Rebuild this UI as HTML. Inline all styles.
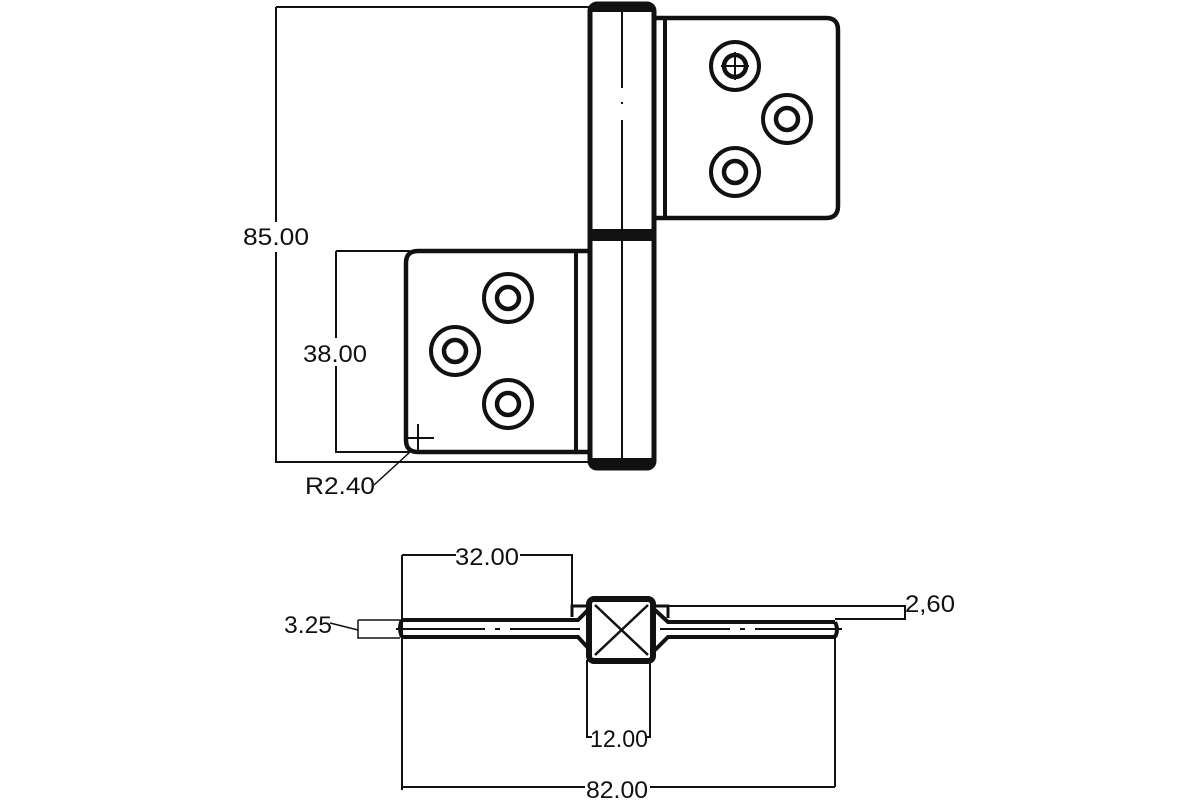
<!DOCTYPE html>
<html><head><style>
html,body{margin:0;padding:0;background:#fff;width:1200px;height:800px;overflow:hidden}
text{font-family:"Liberation Sans",sans-serif;font-size:24px;fill:#111}
</style></head><body>
<svg width="1200" height="800" viewBox="0 0 1200 800" xmlns="http://www.w3.org/2000/svg">
<g fill="none" stroke="#111">
<path d="M276 7H590M276 7V222M276 252V462H590" stroke-width="2"/>
<path d="M336 251H410M336 251V338M336 366V452H410" stroke-width="2"/>
<rect x="590" y="4" width="64" height="464" rx="7" stroke-width="5"/>
<rect x="592" y="4" width="60" height="8" fill="#111" stroke="none"/>
<rect x="592" y="229" width="60" height="12" fill="#111" stroke="none"/>
<rect x="592" y="458" width="60" height="9" fill="#111" stroke="none"/>
<path d="M622 10V88M622 102V104M622 120V470" stroke-width="2"/>
<path d="M654 18H826Q838 18 838 30V206Q838 218 826 218H654" stroke-width="4.5"/>
<path d="M665 18V218" stroke-width="4"/>
<g stroke-width="4">
<circle cx="735" cy="66" r="24"/><circle cx="735" cy="66" r="11" stroke-width="4.5"/>
<circle cx="787" cy="119" r="24"/><circle cx="787" cy="119" r="11" stroke-width="4.5"/>
<circle cx="735" cy="172" r="24"/><circle cx="735" cy="172" r="11" stroke-width="4.5"/>
</g>
<path d="M721 66H749M735 52V80" stroke-width="2"/>
<path d="M590 251H418Q406 251 406 263V440Q406 452 418 452H590" stroke-width="4.5"/>
<path d="M576 251V452" stroke-width="4"/>
<g stroke-width="4">
<circle cx="508" cy="298" r="24"/><circle cx="508" cy="298" r="11" stroke-width="4.5"/>
<circle cx="455" cy="351" r="24"/><circle cx="455" cy="351" r="11" stroke-width="4.5"/>
<circle cx="508" cy="404" r="24"/><circle cx="508" cy="404" r="11" stroke-width="4.5"/>
</g>
<path d="M404 438H434M418 424V454" stroke-width="2"/>
<path d="M374 485L410 452" stroke-width="1.5"/>
<path d="M402 555H456M520 555H572V610" stroke-width="2"/>
<path d="M402 555V790M835 635V787M402 787H585M650 787H835" stroke-width="2"/>
<path d="M587 660V737H592M650 660V737H646" stroke-width="2"/>
<path d="M358 620H400M358 620V638H400M330 623L358 630" stroke-width="1.5"/>
<path d="M668 606H905V619H835M905 606V619" stroke-width="2"/>
<path d="M402 620H578L590 608M402 637H578L590 650M655 610L668 622H835M655 650L668 637H835" stroke-width="4"/>
<path d="M402 620Q398 628 402 637M835 622Q839 630 835 637" stroke-width="4"/>
<path d="M572 617V606H590M668 618V606H655" stroke-width="3"/>
<rect x="589" y="599" width="64" height="62" rx="5" stroke-width="6"/>
<path d="M595 605L648 655M648 605L595 655" stroke-width="2.5"/>
<path d="M396 629H485M495 629H500M510 629H580M660 629H730M740 629H745M755 629H842" stroke-width="2"/>
</g>
<text x="243" y="245" textLength="66" lengthAdjust="spacingAndGlyphs">85.00</text>
<text x="303" y="362" textLength="64" lengthAdjust="spacingAndGlyphs">38.00</text>
<text x="305" y="494" textLength="70" lengthAdjust="spacingAndGlyphs">R2.40</text>
<text x="455" y="565" textLength="64" lengthAdjust="spacingAndGlyphs">32.00</text>
<text x="905" y="612" textLength="50" lengthAdjust="spacingAndGlyphs">2,60</text>
<text x="284" y="633" textLength="48" lengthAdjust="spacingAndGlyphs">3.25</text>
<text x="590" y="747" textLength="58" lengthAdjust="spacingAndGlyphs">12.00</text>
<text x="586" y="798" textLength="62" lengthAdjust="spacingAndGlyphs">82.00</text>
</svg>
</body></html>
